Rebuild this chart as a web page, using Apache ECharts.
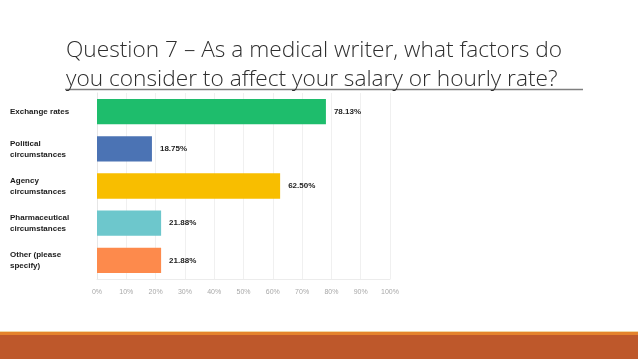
<!DOCTYPE html>
<html><head><meta charset="utf-8">
<script src="https://cdn.jsdelivr.net/npm/echarts@6/dist/echarts.min.js"></script>
<style>html,body{margin:0;padding:0;background:#fff}#c{width:638px;height:359px}</style>
</head><body><div id="c"></div>
<script>
const categories = ['Exchange rates', 'Political\ncircumstances', 'Agency\ncircumstances', 'Pharmaceutical\ncircumstances', 'Other (please\nspecify)'];
const values = [78.13, 18.75, 62.50, 21.88, 21.88];
const barColors = ['#1ebd6c', '#4b73b4', '#f8be00', '#6dc7cc', '#fd8a4c'];
const tickLabels = ['0%', '10%', '20%', '30%', '40%', '50%', '60%', '70%', '80%', '90%', '100%'];
const titleText = 'Question 7 \u2013 As a medical writer, what factors do\nyou consider to affect your salary or hourly rate?';

const chart = echarts.init(document.getElementById('c'), null, {renderer: 'canvas'});
chart.setOption({
  animation: false,
  backgroundColor: '#ffffff',
  title: {
    text: titleText, left: 61, top: 31,
    textStyle: {fontFamily: 'Open Sans', fontWeight: 300, fontSize: 22.7, lineHeight: 29, color: '#2e2e2e'}
  },
  grid: {left: 97, right: 248, top: 93, height: 186, containLabel: false},
  xAxis: {
    type: 'value', min: 0, max: 100, interval: 10,
    axisLine: {show: true, lineStyle: {color: '#ececec'}}, axisTick: {show: false},
    splitLine: {show: true, lineStyle: {color: '#f0f0f0', width: 1}},
    axisLabel: {color: '#a8a8a8', fontSize: 7, fontFamily: 'Liberation Sans', margin: 10,
      formatter: (v) => tickLabels[Math.round(v / 10)]}
  },
  yAxis: {
    type: 'category', data: categories, inverse: true,
    axisLine: {show: true, lineStyle: {color: '#e6e6e6'}}, axisTick: {show: false},
    axisLabel: {align: 'left', margin: 87, color: '#1a1a1a', fontSize: 8, fontWeight: 'bold',
      fontFamily: 'Liberation Sans', lineHeight: 11}
  },
  series: [{
    type: 'bar', barCategoryGap: '32%',
    data: values.map((v, i) => ({value: v, itemStyle: {color: barColors[i]}})),
    label: {show: true, position: 'right', distance: 8, color: '#222', fontSize: 8, fontWeight: 'bold',
      fontFamily: 'Liberation Sans', formatter: (p) => p.value.toFixed(2) + '%'}
  }],
  graphic: [
    {type: 'line', shape: {x1: 65, y1: 89.5, x2: 583, y2: 89.5}, style: {stroke: '#7f7f7f', lineWidth: 1.5}},
    {type: 'rect', shape: {x: 0, y: 331, width: 638, height: 1}, style: {fill: '#f0d9a8'}},
    {type: 'rect', shape: {x: 0, y: 332, width: 638, height: 3}, style: {fill: '#e5832c'}},
    {type: 'rect', shape: {x: 0, y: 335, width: 638, height: 24}, style: {fill: '#be582b'}}
  ]
});
</script></body></html>
